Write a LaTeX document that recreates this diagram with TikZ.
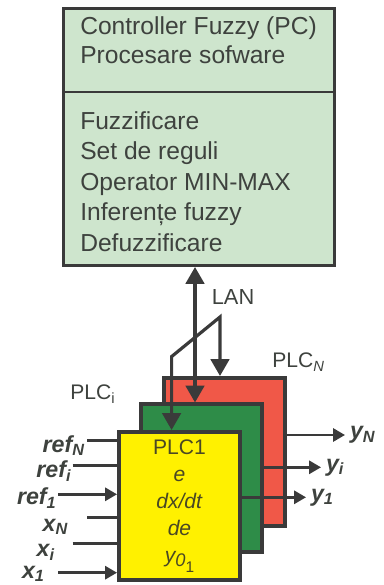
\documentclass[tikz,border=0pt]{standalone}
\usepackage{fontspec}
\setmainfont{Liberation Sans}
\usetikzlibrary{positioning, arrows.meta}

\definecolor{pcgreen}{RGB}{206,229,205}
\definecolor{plcred}{RGB}{240,88,72}
\definecolor{plcgreen}{RGB}{46,140,72}
\definecolor{plcyellow}{RGB}{255,241,0}
\definecolor{edge}{RGB}{58,58,58}
\definecolor{ink}{RGB}{62,66,62}
\definecolor{plcink}{RGB}{74,72,36}

\tikzset{
  bigtip/.tip={Triangle[length=0.42cm, width=0.46cm]},
  smalltip/.tip={Triangle[length=0.3cm, width=0.33cm]},
}

\begin{document}
\begin{tikzpicture}[
    every node/.style={text=ink, inner sep=0pt},
    plcbox/.style={draw=edge, line width=0.1cm, minimum width=3.025cm, minimum height=3.7cm},
    bus/.style={draw=edge, line width=0.08cm},
    wire/.style={draw=edge, line width=0.065cm},
    pctext/.style={anchor=base west, font=\fontsize{17.5}{21}\selectfont},
    plcname/.style={anchor=base west, font=\fontsize{15}{17}\selectfont},
    io/.style={font=\fontsize{16.5}{20}\selectfont\bfseries\itshape},
  ]
  \useasboundingbox (0,0) rectangle (9.575,14.625);

  % The PC with the fuzzy controller
  \node[draw=edge, line width=0.07cm, fill=pcgreen, minimum width=6.78cm, minimum height=6.43cm] (pc) at (4.975,11.2) {};
  \coordinate (split) at (0,12.325);
  \draw[edge, line width=0.07cm] (pc.west |- split) -- (pc.east |- split);
  \node[pctext] (title) at (2.0,13.75) {Controller Fuzzy (PC)};
  \node[pctext] (soft) at (2.0,13.04) {Procesare sofware};
  \node[pctext] (fuzz) at (2.0,11.39) {Fuzzificare};
  \node[pctext] (rules) at (2.0,10.625) {Set de reguli};
  \node[pctext] (minmax) at (2.0,9.86) {Operator MIN-MAX};
  \node[pctext] (infer) at (2.0,9.1) {Inferențe fuzzy};
  \node[pctext] (defuzz) at (2.0,8.325) {Defuzzificare};

  % The stack of PLCs (back to front)
  \node[plcbox, fill=plcred] (plcN) at (5.6125,3.325) {};
  \node[plcbox, fill=plcgreen] (plci) at (5.025,2.6625) {};
  \node[plcbox, fill=plcyellow, align=center, text=plcink, font=\fontsize{15}{19.2}\selectfont] (plc1) at (4.4875,1.975)
    {PLC1\\ \textit{e}\\ \textit{dx/dt}\\ \textit{de}\\
     {\itshape y\raisebox{-0.2em}{\fontsize{13}{13}\selectfont 0\raisebox{-0.35em}{\upshape\fontsize{11}{11}\selectfont 1}}}};
  \node[plcname] (nameN) at (6.8,5.425) {PLC\textsubscript{\itshape N}};
  \node[plcname] (namei) at (1.75,4.625) {PLC\textsubscript{i}};

  % LAN
  \coordinate (lanx) at (4.875,0);
  \coordinate (fork) at (5.5,6.7);
  \coordinate (knee) at (4.29,5.71);
  \draw[bus, bigtip-bigtip] (pc.south -| lanx) -- (plci.north -| lanx);
  \draw[bus, bigtip-bigtip] (knee |- plc1.north) -- (knee) -- (fork) -- (fork |- plcN.north);
  \node[anchor=base west, font=\fontsize{15.5}{18}\selectfont] (lan) at (5.29,7.0) {LAN};

  % Outputs
  \coordinate (oN) at (8.625,3.75);
  \coordinate (oi) at (8.025,2.9425);
  \coordinate (o1) at (7.65,2.1925);
  \draw[wire, -smalltip] (plcN.east |- oN) -- (oN);
  \draw[wire, -smalltip] (plci.east |- oi) -- (oi);
  \draw[wire, -smalltip] (plc1.east |- o1) -- (o1);
  \node[io, right=0.12cm of oN] (yN) {y\textsubscript{N}};
  \node[io, right=0.12cm of oi] (yi) {y\textsubscript{i}};
  \node[io, right=0.12cm of o1] (y1) {y\textsubscript{1}};

  % Inputs
  \coordinate (irefN) at (2.175,3.6075);
  \coordinate (irefi) at (1.8175,2.9825);
  \coordinate (iref1) at (1.4575,2.2675);
  \coordinate (ixN) at (2.175,1.6925);
  \coordinate (ixi) at (1.8175,1.0425);
  \coordinate (ix1) at (1.4575,0.3075);
  \draw[wire] (irefN) -- (irefN -| plc1.west);
  \draw[wire] (irefi) -- (irefi -| plc1.west);
  \draw[wire, -smalltip] (iref1) -- (iref1 -| plc1.west);
  \draw[wire] (ixN) -- (ixN -| plc1.west);
  \draw[wire] (ixi) -- (ixi -| plc1.west);
  \draw[wire, -smalltip] (ix1) -- (ix1 -| plc1.west);
  \node[io, anchor=base east] (refN) at (2.125,3.32) {ref\textsubscript{N}};
  \node[io, anchor=base east] (refi) at (1.79,2.69) {ref\textsubscript{i}};
  \node[io, anchor=base east] (ref1) at (1.4175,2.0) {ref\textsubscript{1}};
  \node[io, anchor=base east] (xN) at (1.7075,1.35) {x\textsubscript{N}};
  \node[io, anchor=base east] (xi) at (1.375,0.7) {x\textsubscript{i}};
  \node[io, anchor=base east] (x1) at (1.125,0.17) {x\textsubscript{1}};
\end{tikzpicture}
\end{document}
